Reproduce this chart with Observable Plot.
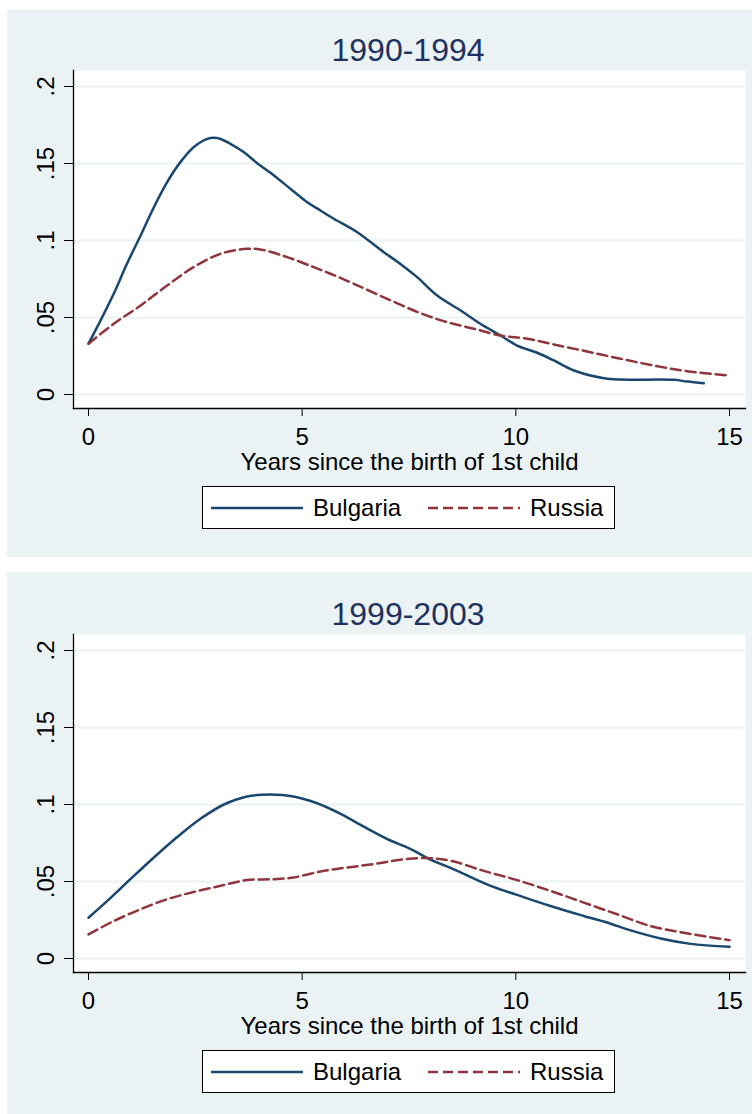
<!DOCTYPE html>
<html>
<head>
<meta charset="utf-8">
<script src="https://cdn.jsdelivr.net/npm/d3@7"></script>
<script src="https://cdn.jsdelivr.net/npm/@observablehq/plot@0.6"></script>
<style>
  body { margin: 0; background: #fff; font-family: "Liberation Sans", Arial, Helvetica, sans-serif; }
  #root { position: relative; width: 752px; height: 1114px; overflow: hidden; }
  .bg { position: absolute; left: 7px; width: 745px; background: #eaf2f3; }
  .panel { position: absolute; left: 7px; width: 745px; height: 545px; }
  .title { position: absolute; left: 401px; top: 22px; transform: translateX(-50%); white-space: nowrap;
           font-size: 32px; line-height: 32px; color: #1e3160; }
  .plot { position: absolute; left: 0; top: 40px; }
  .legend { position: absolute; left: 195px; top: 474px; width: 413px; height: 43px; box-sizing: border-box;
            border: 1px solid #000; background: #fff; }
  .legend span { position: absolute; top: 9px; font-size: 24px; line-height: 24px; color: #000; white-space: nowrap; }
  .legend svg { position: absolute; top: 17px; }
</style>
</head>
<body>
<div id="root"></div>
<script>
// ---- data ----
const panelTitles = ["1990-1994", "1999-2003"];
const seriesNames = ["Bulgaria", "Russia"];
const xTicks = [0, 5, 10, 15];
const yTicks = [0, 0.05, 0.1, 0.15, 0.2];
const xLabel = "Years since the birth of 1st child";

// 1990-1994
const bg1Years = [0, 0.28, 0.59, 0.9, 1.22, 1.53, 1.84, 2.15, 2.46, 2.78, 3.01, 3.32, 3.63, 3.95, 4.34, 4.73, 5.12, 5.43, 5.74, 6.29, 6.91, 7.30, 7.69, 8.16, 8.71, 9.17, 9.64, 10.03, 10.5, 10.89, 11.36, 12.06, 12.45, 13.7, 14.01, 14.4];
const bg1Values = [0.033, 0.048, 0.0654, 0.0849, 0.1032, 0.1216, 0.1379, 0.1509, 0.1606, 0.166, 0.1665, 0.1628, 0.1574, 0.1502, 0.1422, 0.1335, 0.1249, 0.1195, 0.1141, 0.1054, 0.0924, 0.0848, 0.0762, 0.0643, 0.0545, 0.0459, 0.0383, 0.0318, 0.0271, 0.0221, 0.0156, 0.0106, 0.0097, 0.0095, 0.0084, 0.0073];
const ru1Years = [0, 0.59, 1.22, 1.84, 2.46, 3.09, 3.71, 4.02, 4.65, 5.27, 5.66, 6.21, 6.99, 7.77, 8.39, 9.02, 9.64, 10.27, 10.89, 11.67, 12.45, 13.23, 14.01, 15];
const ru1Values = [0.033, 0.0459, 0.0578, 0.0708, 0.0827, 0.0914, 0.0946, 0.0942, 0.0892, 0.0827, 0.0784, 0.0719, 0.0621, 0.0528, 0.047, 0.0427, 0.0383, 0.0362, 0.0325, 0.0279, 0.0232, 0.0188, 0.0151, 0.0123];

// 1999-2003
const bg2Years = [0, 0.44, 0.98, 1.53, 2.07, 2.62, 3.17, 3.71, 4.26, 4.8, 5.35, 5.9, 6.44, 6.99, 7.54, 7.93, 8.63, 9.41, 10.03, 10.81, 11.59, 12.22, 12.61, 13.39, 14.09, 15];
const bg2Values = [0.0265, 0.0374, 0.0515, 0.0656, 0.0787, 0.0907, 0.1, 0.1052, 0.1065, 0.1052, 0.1008, 0.0939, 0.0856, 0.0776, 0.0711, 0.0652, 0.0569, 0.0472, 0.0413, 0.0341, 0.0276, 0.0226, 0.0189, 0.013, 0.0095, 0.0076];
const ru2Years = [0, 0.59, 1.22, 1.84, 2.46, 3.09, 3.71, 4.33, 4.8, 5.43, 6.05, 6.68, 7.3, 7.93, 8.47, 9.25, 10.03, 10.81, 11.59, 12.37, 13.15, 13.93, 15];
const ru2Values = [0.0157, 0.0243, 0.032, 0.0385, 0.0432, 0.0472, 0.0509, 0.0515, 0.0526, 0.0565, 0.0591, 0.0613, 0.0641, 0.0652, 0.0635, 0.0569, 0.0509, 0.0439, 0.0363, 0.0287, 0.0211, 0.0167, 0.0119];

const colors = ["#1a476f", "#90353b"];
const dashes = [null, "10,5"];

const zip = (xs, ys) => xs.map((x, i) => ({x, y: ys[i]}));
const panels = [
  {title: panelTitles[0], series: [zip(bg1Years, bg1Values), zip(ru1Years, ru1Values)], bgTop: 10, bgH: 547, top: 12},
  {title: panelTitles[1], series: [zip(bg2Years, bg2Values), zip(ru2Years, ru2Values)], bgTop: 572, bgH: 542, top: 576}
];

const fmtY = d => d === 0 ? "0" : d3.format(".2~f")(d).replace(/^0/, "");
const root = document.getElementById("root");

for (const p of panels) {
  const bg = document.createElement("div");
  bg.className = "bg";
  bg.style.top = p.bgTop + "px";
  bg.style.height = p.bgH + "px";
  root.appendChild(bg);

  const panel = document.createElement("div");
  panel.className = "panel";
  panel.style.top = p.top + "px";
  root.appendChild(panel);

  const t = document.createElement("div");
  t.className = "title";
  t.textContent = p.title;
  panel.appendChild(t);

  const chart = Plot.plot({
    width: 745,
    height: 440,
    marginTop: 18,
    marginLeft: 66,
    marginRight: 7,
    marginBottom: 84,
    style: {fontSize: "24px", fontFamily: "'Liberation Sans', Arial, sans-serif", color: "#000", background: "transparent", overflow: "visible"},
    x: {domain: [0, 15], insetLeft: 15, insetRight: 16},
    y: {domain: [0, 0.2], insetTop: 16, insetBottom: 14},
    marks: [
      Plot.frame({fill: "#fff", stroke: null}),
      Plot.gridY(yTicks, {stroke: "#eaf2f3", strokeOpacity: 1, strokeWidth: 2}),
      Plot.frame({anchor: "left", stroke: "#000", strokeWidth: 1.3}),
      Plot.frame({anchor: "bottom", stroke: "#000", strokeWidth: 1.3}),
      Plot.axisY(yTicks, {tickRotate: -90, tickSize: 9, tickPadding: 11, tickFormat: fmtY, label: null, fontSize: 24, stroke: "#000"}),
      Plot.axisX(xTicks, {tickSize: 8, tickPadding: 11, label: xLabel, labelAnchor: "center", labelOffset: 61, labelArrow: "none", fontSize: 24, stroke: "#000"}),
      ...p.series.map((s, i) => Plot.line(s, {x: "x", y: "y", stroke: colors[i], strokeWidth: 2.5, strokeDasharray: dashes[i], curve: "catmull-rom"}))
    ]
  });
  chart.classList.add("plot");
  panel.appendChild(chart);

  // legend
  const lg = document.createElement("div");
  lg.className = "legend";
  const swX = [8, 225], txX = [110, 327];
  seriesNames.forEach((name, i) => {
    const svg = d3.create("svg").attr("width", 92).attr("height", 8).style("left", swX[i] + "px");
    svg.append("line").attr("x1", 0).attr("x2", 92).attr("y1", 4).attr("y2", 4)
      .attr("stroke", colors[i]).attr("stroke-width", 2.6).attr("stroke-dasharray", dashes[i]);
    lg.appendChild(svg.node());
    const sp = document.createElement("span");
    sp.textContent = name;
    sp.style.left = txX[i] + "px";
    lg.appendChild(sp);
  });
  panel.appendChild(lg);
}
</script>
</body>
</html>
